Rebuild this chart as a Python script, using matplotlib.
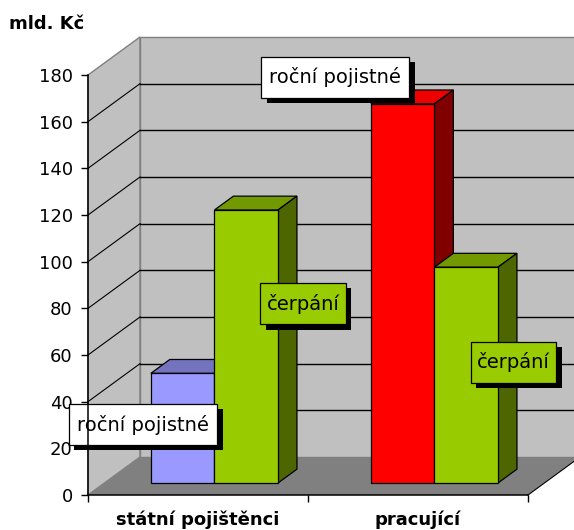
import matplotlib.pyplot as plt
from matplotlib.patches import Polygon, Rectangle

categories = ['státní pojištěnci', 'pracující']
rocni_pojistne = [47, 162.5]
cerpani = [117, 92.5]
value_ticks = [0, 20, 40, 60, 80, 100, 120, 140, 160, 180]

# depth of the 3d box, in category units and value units
dx = 0.2364
dy = 16.29
bar_w = 0.289
d0 = 0.316
d1 = 0.68

W, H = 574, 530
fig = plt.figure(figsize=(W / 100, H / 100), dpi=100)
ax = fig.add_axes([88 / W, 1 - 495 / H, 440 / W, 420 / H])
ax.set_xlim(0, 2)
ax.set_ylim(0, 180)


def face(points, color, edge='none', lw=0.9, z=1):
    ax.add_patch(Polygon(points, closed=True, facecolor=color, edgecolor=edge,
                         linewidth=lw, clip_on=False, zorder=z))


def line(xs, ys, color='black', lw=1.0, z=1.2):
    ax.plot(xs, ys, color=color, lw=lw, clip_on=False, zorder=z)


def bar3d(left, value, front, top, side):
    right = left + bar_w
    x0, y0 = left + dx * d0, dy * d0
    x1, y1 = right + dx * d0, dy * d0
    ox, oy = dx * (d1 - d0), dy * (d1 - d0)
    face([(x0, y0 + value), (x1, y1 + value), (x1 + ox, y1 + oy + value), (x0 + ox, y0 + oy + value)],
         top, 'black', z=1.5)
    face([(x1, y1), (x1 + ox, y1 + oy), (x1 + ox, y1 + oy + value), (x1, y1 + value)],
         side, 'black', z=1.5)
    face([(x0, y0), (x1, y1), (x1, y1 + value), (x0, y0 + value)], front, 'black', z=1.5)


def label(x, y, w, h, text, color):
    # x, y = box centre
    ax.add_patch(Rectangle((x - w / 2 + 0.025, y - h / 2 - 2.3), w, h, facecolor='black',
                           edgecolor='none', clip_on=False, zorder=2))
    ax.add_patch(Rectangle((x - w / 2, y - h / 2), w, h, facecolor=color, edgecolor='black',
                           linewidth=0.9, clip_on=False, zorder=2.05))
    ax.text(x, y, text, ha='center', va='center', fontsize=14, color='black',
            clip_on=False, zorder=2.1)


# walls and floor
face([(0, 0), (dx, dy), (dx, 180 + dy), (0, 180)], '#C0C0C0', '#808080', 1.0)
face([(dx, dy), (2 + dx, dy), (2 + dx, 180 + dy), (dx, 180 + dy)], '#C0C0C0', '#808080', 1.0)
for v in value_ticks[1:-1]:
    line([0, dx], [v, v + dy], lw=0.8)
    line([dx, 2 + dx], [v + dy, v + dy])
face([(0, 0), (2, 0), (2 + dx, dy), (dx, dy)], '#808080', 'none')
line([2, 2 + dx], [0, dy], lw=0.8)

# bars
for i in range(2):
    if i == 0:
        bar3d(i + 0.5 - bar_w, rocni_pojistne[i], '#9999FF', '#7373BF', '#4D4D80')
    else:
        bar3d(i + 0.5 - bar_w, rocni_pojistne[i], '#FF0000', '#EE0000', '#800000')
    bar3d(i + 0.5, cerpani[i], '#99CC00', '#739900', '#4D6600')

# data labels
label(0.25, 30.2, 0.673, 17.6, 'roční pojistné', 'white')
label(1.123, 179, 0.673, 17.6, 'roční pojistné', 'white')
label(0.977, 82, 0.39, 17.6, 'čerpání', '#99CC00')
label(1.934, 56.8, 0.39, 17.6, 'čerpání', '#99CC00')

# axes
ax.patch.set_visible(False)
ax.spines['top'].set_visible(False)
ax.spines['right'].set_visible(False)
ax.spines['left'].set_linewidth(1.1)
ax.spines['bottom'].set_linewidth(1.1)
ax.set_yticks(value_ticks)
ax.set_yticklabels([str(v) for v in value_ticks], fontsize=13)
ax.tick_params(axis='y', length=5, width=1.0, pad=6)
ax.set_xticks([0, 1, 2])
ax.set_xticklabels([])
ax.tick_params(axis='x', which='major', length=5, width=1.0)
ax.set_xticks([0.5, 1.5], minor=True)
ax.set_xticklabels(categories, minor=True, fontsize=13, fontweight='bold')
ax.tick_params(axis='x', which='minor', length=0, pad=11)

fig.text(9 / W, 1 - 24 / H, 'mld. Kč', fontsize=13, fontweight='bold', va='center', ha='left')

fig.savefig('out.png', dpi=100)
